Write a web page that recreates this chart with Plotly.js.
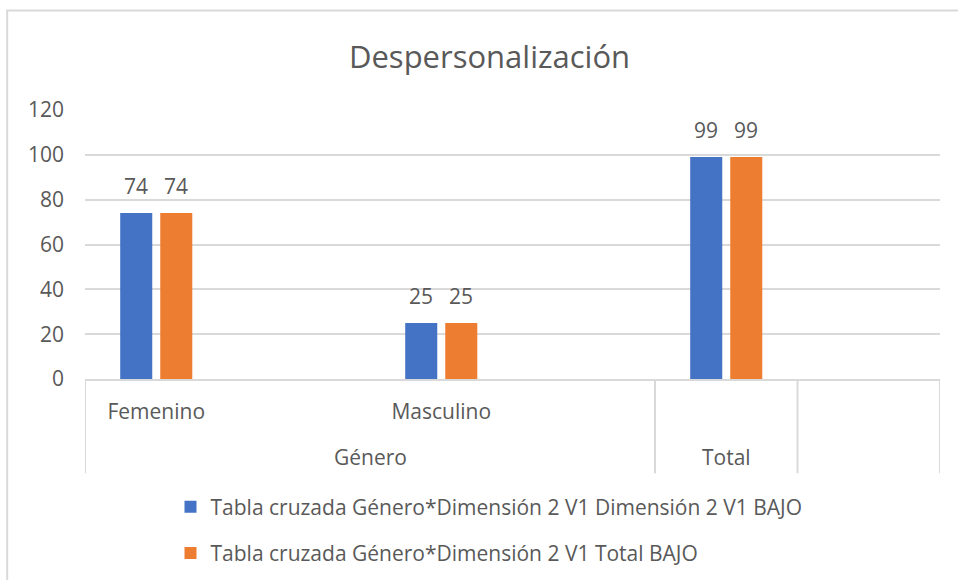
<!DOCTYPE html>
<html>
<head>
<meta charset="utf-8">
<script src="https://cdn.plot.ly/plotly-3.0.1.min.js"></script>
<style>html,body{margin:0;padding:0;background:#fff;}#chart{width:958px;height:580px;}</style>
</head>
<body>
<div id="chart"></div>
<script>
// ---- data ----
const categories = ["Femenino", "Masculino", "Total"];
const subLabels = ["Femenino", "Masculino", ""];
const groupLabels = ["Género", "Total"];
const groupCenters = [0.75, 2];
const seriesNames = [
  "Tabla cruzada Género*Dimensión 2 V1 Dimensión 2 V1 BAJO",
  "Tabla cruzada Género*Dimensión 2 V1 Total BAJO"
];
const seriesBajo = [74, 25, 99];
const seriesTotal = [74, 25, 99];
const yTicks = [0, 20, 40, 60, 80, 100, 120];

const FONT = "Open Sans, Noto Sans, sans-serif";
const GREY = "#595959";
const colors = ["#4472C4", "#ED7D31"];
const allSeries = [seriesBajo, seriesTotal];

const traces = allSeries.map((vals, i) => ({
  type: "bar",
  x: categories,
  y: vals,
  name: seriesNames[i],
  legendgroup: "g" + i,
  marker: {color: colors[i]},
  hoverinfo: "x+y"
}));

const annotations = [];
allSeries.forEach((vals, i) => {
  vals.forEach((v, j) => {
    annotations.push({
      x: categories[j], y: v, xref: "x", yref: "y",
      text: String(v), showarrow: false,
      xshift: i === 0 ? -20 : 20, yanchor: "bottom", yshift: 11,
      font: {family: FONT, size: 21, color: GREY}
    });
  });
});
groupLabels.forEach((g, k) => {
  annotations.push({
    x: groupCenters[k], y: -0.29, xref: "x", yref: "paper",
    text: g, showarrow: false, yanchor: "middle",
    font: {family: FONT, size: 21, color: GREY}
  });
});

const divColor = "#d9d9d9";
const shapes = [-0.25, 1.75, 2.25, 2.75].map(xv => ({
  type: "line", xref: "x", yref: "paper",
  x0: xv, x1: xv, y0: 0, y1: -0.35,
  line: {color: divColor, width: 2}
}));
// chart border (left/top visible)
shapes.push({
  type: "rect", xref: "paper", yref: "paper",
  x0: -0.091, x1: 1.2, y0: 1.37, y1: -1.0,
  line: {color: divColor, width: 2}
});

const layout = {
  width: 958, height: 580,
  margin: {l: 85, r: 18, t: 110, b: 201, autoexpand: false},
  paper_bgcolor: "#fff", plot_bgcolor: "#fff",
  title: {
    text: "Despersonalización",
    font: {family: FONT, size: 31, color: GREY},
    x: 0.511, xanchor: "center", y: 0.902, yanchor: "middle"
  },
  barmode: "group",
  bargap: 0.719,
  bargroupgap: 0.2,
  xaxis: {
    type: "category",
    range: [-0.25, 2.75],
    tickvals: categories,
    ticktext: subLabels,
    ticks: "",
    ticklabelstandoff: 13,
    tickfont: {family: FONT, size: 21, color: GREY},
    showgrid: false,
    showline: true, linecolor: divColor, linewidth: 2,
    zeroline: false,
    fixedrange: true
  },
  yaxis: {
    range: [0, 120],
    tickvals: yTicks,
    ticks: "",
    ticklabelstandoff: 20,
    tickfont: {family: FONT, size: 21, color: GREY},
    showgrid: true, gridcolor: divColor, gridwidth: 2,
    zeroline: false, showline: false,
    fixedrange: true
  },
  showlegend: true,
  legend: {
    orientation: "v",
    x: 0.1, xanchor: "left",
    y: -0.40, yanchor: "top",
    font: {family: FONT, size: 21, color: GREY},
    tracegroupgap: 16,
    bgcolor: "rgba(0,0,0,0)"
  },
  annotations: annotations,
  shapes: shapes
};

Plotly.newPlot("chart", traces, layout, {displayModeBar: false, staticPlot: true});
</script>
</body>
</html>
